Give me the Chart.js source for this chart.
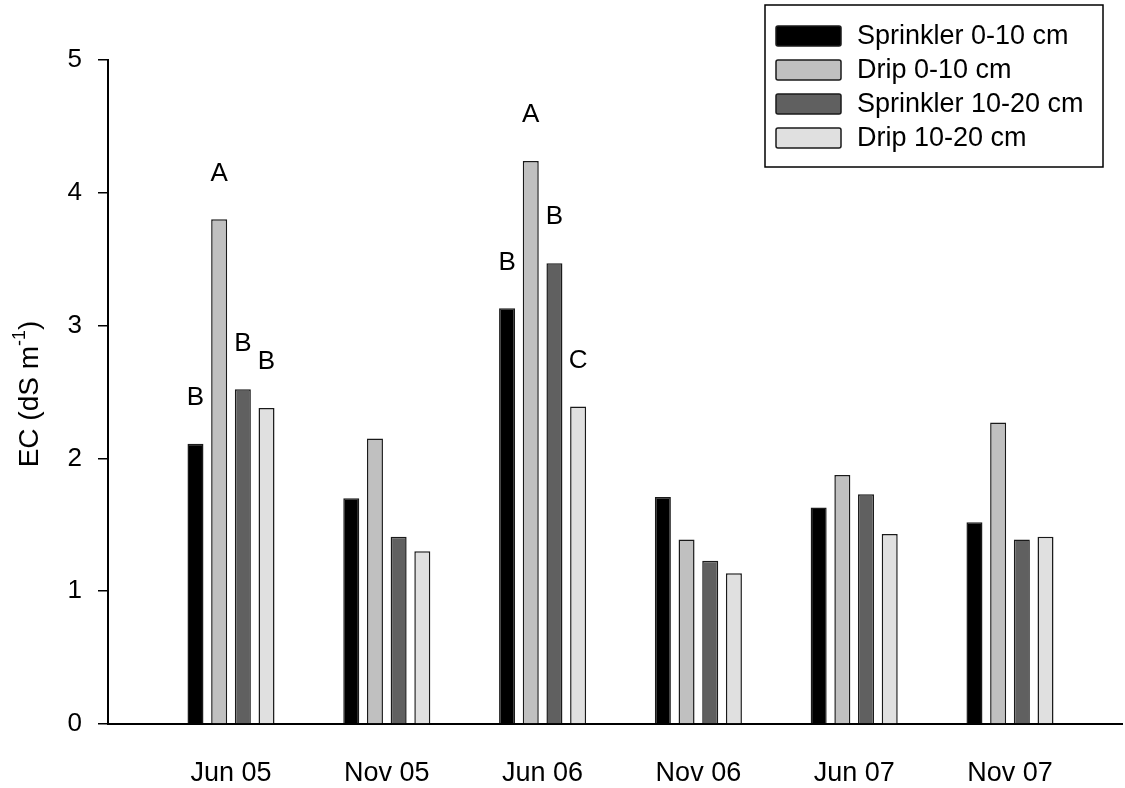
<!DOCTYPE html>
<html>
<head>
<meta charset="utf-8">
<title>EC by irrigation method and depth</title>
<script src="https://cdn.jsdelivr.net/npm/chart.js@4.4.1/dist/chart.umd.min.js"></script>
<style>
  html, body { margin: 0; padding: 0; background: #ffffff; }
  #wrap { width: 1125px; height: 788px; position: relative; }
</style>
</head>
<body>
<div id="wrap"><canvas id="chart" width="1125" height="788"></canvas></div>
<script>
// Sampling dates
const categories = ['Jun 05', 'Nov 05', 'Jun 06', 'Nov 06', 'Jun 07', 'Nov 07'];

// Series names
const seriesLabels = ['Sprinkler 0-10 cm', 'Drip 0-10 cm', 'Sprinkler 10-20 cm', 'Drip 10-20 cm'];

// EC values (dS m-1)
const sprinkler0to10 = [2.11, 1.70, 3.13, 1.71, 1.63, 1.52];
const drip0to10      = [3.80, 2.15, 4.24, 1.39, 1.875, 2.27];
const sprinkler10to20 = [2.52, 1.41, 3.47, 1.23, 1.73, 1.39];
const drip10to20     = [2.38, 1.30, 2.39, 1.135, 1.43, 1.41];

// Significance letters per series
const sprinkler0to10Letters  = ['B', '', 'B', '', '', ''];
const drip0to10Letters       = ['A', '', 'A', '', '', ''];
const sprinkler10to20Letters = ['B', '', 'B', '', '', ''];
const drip10to20Letters      = ['B', '', 'C', '', '', ''];

// Y axis ticks
const yTicks = [0, 1, 2, 3, 4, 5];

const FONT = "'Liberation Sans', Arial, 'DejaVu Sans', sans-serif";
const fills = ['#000000', '#c0c0c0', '#606060', '#e0e0e0'];
const allValues = [sprinkler0to10, drip0to10, sprinkler10to20, drip10to20];
const allLetters = [sprinkler0to10Letters, drip0to10Letters, sprinkler10to20Letters, drip10to20Letters];

const datasets = allValues.map((vals, d) => ({
  label: seriesLabels[d],
  data: vals.map((y, i) => ({ x: i + 1, y: y })),
  backgroundColor: fills[d],
  borderColor: '#1a1a1a',
  borderWidth: 1.5,
  borderSkipped: 'bottom',
  categoryPercentage: 0.608,
  barPercentage: 0.676,
  letters: allLetters[d]
}));

// Letters above the bars
const letterPlugin = {
  id: 'letters',
  afterDatasetsDraw(chart) {
    const ctx = chart.ctx;
    ctx.save();
    ctx.fillStyle = '#000';
    ctx.font = '26px ' + FONT;
    ctx.textAlign = 'center';
    ctx.textBaseline = 'middle';
    chart.data.datasets.forEach((ds, d) => {
      const meta = chart.getDatasetMeta(d);
      meta.data.forEach((bar, i) => {
        const t = ds.letters[i];
        if (t) ctx.fillText(t, bar.x, bar.y - 46);
      });
    });
    ctx.restore();
  }
};

// Boxed legend in the top-right corner
const boxLegendPlugin = {
  id: 'boxLegend',
  afterDraw(chart) {
    const ctx = chart.ctx;
    ctx.save();
    ctx.strokeStyle = '#000';
    ctx.lineWidth = 1.5;
    ctx.strokeRect(765, 5, 338, 162);
    ctx.font = '27px ' + FONT;
    ctx.textAlign = 'left';
    ctx.textBaseline = 'middle';
    chart.data.datasets.forEach((ds, d) => {
      const y = 26 + d * 34;
      ctx.beginPath();
      ctx.roundRect(776, y, 65, 20, 2);
      ctx.fillStyle = ds.backgroundColor;
      ctx.fill();
      ctx.strokeStyle = '#1a1a1a';
      ctx.lineWidth = 1.5;
      ctx.stroke();
      ctx.fillStyle = '#000';
      ctx.fillText(ds.label, 857, y + 11);
    });
    ctx.restore();
  }
};

// Y axis title with superscript unit
const yTitlePlugin = {
  id: 'yTitle',
  afterDraw(chart) {
    const ctx = chart.ctx;
    const area = chart.chartArea;
    const main = 'EC (dS m';
    const sup = '-1';
    const close = ')';
    ctx.save();
    ctx.fillStyle = '#000';
    ctx.textBaseline = 'middle';
    ctx.textAlign = 'left';
    ctx.translate(30, (area.top + area.bottom) / 2 + 2);
    ctx.rotate(-Math.PI / 2);
    ctx.font = '28px ' + FONT;
    const w1 = ctx.measureText(main).width;
    const w3 = ctx.measureText(close).width;
    ctx.font = '18px ' + FONT;
    const w2 = ctx.measureText(sup).width;
    let x = -(w1 + w2 + w3) / 2;
    ctx.font = '28px ' + FONT;
    ctx.fillText(main, x, 0);
    x += w1;
    ctx.font = '18px ' + FONT;
    ctx.fillText(sup, x, -10);
    x += w2;
    ctx.font = '28px ' + FONT;
    ctx.fillText(close, x, 0);
    ctx.restore();
  }
};

new Chart(document.getElementById('chart'), {
  type: 'bar',
  data: { datasets: datasets },
  options: {
    responsive: false,
    animation: false,
    devicePixelRatio: 1,
    layout: { padding: { top: 60, right: 3, left: 0, bottom: 0 } },
    plugins: { legend: { display: false }, tooltip: { enabled: false } },
    scales: {
      x: {
        type: 'linear',
        offset: false,
        min: 0.2105,
        max: 6.719,
        afterBuildTicks(scale) {
          scale.ticks = categories.map((c, i) => ({ value: i + 1 }));
        },
        afterFit(scale) { scale.height = 64; },
        grid: { display: false, drawTicks: false, offset: false },
        border: { display: true, color: '#000', width: 2 },
        ticks: {
          autoSkip: false,
          maxRotation: 0,
          padding: 33,
          color: '#000',
          font: { family: FONT, size: 27 },
          callback: (v) => categories[Math.round(v) - 1]
        }
      },
      y: {
        min: 0,
        max: 5,
        afterBuildTicks(scale) {
          scale.ticks = yTicks.map(v => ({ value: v }));
        },
        afterFit(scale) { scale.width = 108; },
        grid: { drawOnChartArea: false, drawTicks: true, tickLength: 10, color: '#000', lineWidth: 1.5 },
        border: { display: true, color: '#000', width: 2 },
        ticks: {
          padding: 16,
          color: '#000',
          font: { family: FONT, size: 26 }
        }
      }
    }
  },
  plugins: [letterPlugin, boxLegendPlugin, yTitlePlugin]
});
</script>
</body>
</html>
